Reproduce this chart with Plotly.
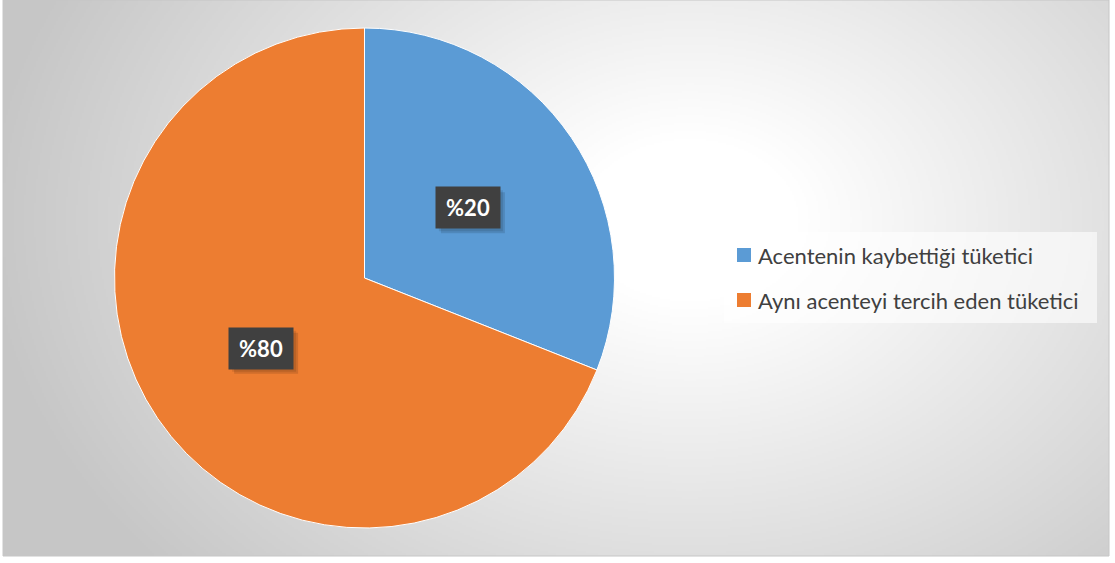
import base64
import struct
import zlib

import numpy as np
import plotly.graph_objects as go

# ---- data ----
labels = ["Acentenin kaybettiği tüketici", "Aynı acenteyi tercih eden tüketici"]
values = [31, 69]
text_labels = ["%20", "%80"]
colors = ["#5B9BD5", "#ED7D31"]

# ---- page geometry (pixels) ----
W, H = 1115, 563
CH_X0, CH_X1, CH_Y0, CH_Y1 = 3, 1109, 0, 556
PIE_CX, PIE_CY, PIE_R = 364.5, 278, 250


def gray_png_uri(arr):
    h, w = arr.shape
    raw = b"".join(b"\x00" + arr[r].tobytes() for r in range(h))

    def chunk(tag, data):
        c = struct.pack(">I", len(data)) + tag + data
        return c + struct.pack(">I", zlib.crc32(tag + data) & 0xFFFFFFFF)

    png = b"\x89PNG\r\n\x1a\n"
    png += chunk(b"IHDR", struct.pack(">IIBBBBB", w, h, 8, 0, 0, 0, 0))
    png += chunk(b"IDAT", zlib.compress(raw, 9))
    png += chunk(b"IEND", b"")
    return "data:image/png;base64," + base64.b64encode(png).decode()


# radial background gradient (decorative)
gw, gh = (CH_X1 - CH_X0) // 2, (CH_Y1 - CH_Y0) // 2
xs = np.linspace(CH_X0, CH_X1, gw)
ys = np.linspace(CH_Y0, CH_Y1, gh)
X, Y = np.meshgrid(xs, ys)
e = np.sqrt((X - 690) ** 2 + ((Y - 220) / 0.75) ** 2)
t = np.clip((e - 110) / 600, 0, 1)
g = (255 - 57 * t).astype(np.uint8)
bg_uri = gray_png_uri(g)

fig = go.Figure()
fig.add_trace(
    go.Pie(
        labels=labels,
        values=values,
        sort=False,
        direction="clockwise",
        rotation=0,
        marker=dict(colors=colors, line=dict(color="white", width=1)),
        textinfo="none",
        hoverinfo="label+percent",
        showlegend=False,
        domain=dict(
            x=[(PIE_CX - PIE_R) / W, (PIE_CX + PIE_R) / W],
            y=[1 - (PIE_CY + PIE_R) / H, 1 - (PIE_CY - PIE_R) / H],
        ),
    )
)

shapes = [
    dict(type="rect", xref="paper", yref="paper",
         x0=CH_X0 / W, x1=CH_X1 / W, y0=1 - CH_Y1 / H, y1=1 - CH_Y0 / H,
         line=dict(color="#c6c6c6", width=1), fillcolor="rgba(0,0,0,0)", layer="below"),
    # legend box
    dict(type="rect", xref="paper", yref="paper",
         x0=724 / W, x1=1097 / W, y0=1 - 323 / H, y1=1 - 232 / H,
         line=dict(width=0), fillcolor="rgba(255,255,255,0.6)", layer="below"),
]
annotations = []

# data labels at half radius on each slice's mid angle
BOX_W, BOX_H = 64, 41
total = sum(values)
cum = 0
for v, txt in zip(values, text_labels):
    mid = (cum + v / 2) / total
    cum += v
    th = 2 * np.pi * mid
    px = PIE_CX + 0.5 * PIE_R * np.sin(th)
    py = PIE_CY - 0.5 * PIE_R * np.cos(th)
    # soft shadow of the label box
    for k, a in ((3, 0.10), (5, 0.12)):
        shapes.append(dict(type="rect", xref="paper", yref="paper", layer="above",
                           x0=(px - BOX_W / 2 + k) / W, x1=(px + BOX_W / 2 + k) / W,
                           y0=1 - (py + BOX_H / 2 + k) / H, y1=1 - (py - BOX_H / 2 + k) / H,
                           line=dict(width=0), fillcolor=f"rgba(0,0,0,{a})"))
    annotations.append(dict(
        x=px / W, y=1 - py / H, xref="paper", yref="paper",
        xanchor="center", yanchor="middle",
        text="<b>" + txt + "</b>", showarrow=False,
        font=dict(size=22, color="white", family="Lato"),
        bgcolor="#404040", width=BOX_W - 14, height=BOX_H - 14, borderpad=7,
    ))

# legend entries
leg_y = [255, 300]
for lab, col, ly in zip(labels, colors, leg_y):
    shapes.append(dict(type="rect", xref="paper", yref="paper",
                       x0=737 / W, x1=751 / W, y0=1 - (ly + 7) / H, y1=1 - (ly - 7) / H,
                       line=dict(width=0), fillcolor=col))
    annotations.append(dict(
        x=756 / W, y=1 - ly / H, xref="paper", yref="paper", xanchor="left", yanchor="middle",
        text=lab, showarrow=False, font=dict(size=22, color="#404040", family="Lato"),
    ))

fig.update_layout(
    width=W, height=H,
    margin=dict(l=0, r=0, t=0, b=0),
    paper_bgcolor="white",
    plot_bgcolor="rgba(0,0,0,0)",
    images=[dict(source=bg_uri, xref="paper", yref="paper",
                 x=CH_X0 / W, y=1 - CH_Y0 / H, sizex=(CH_X1 - CH_X0) / W, sizey=(CH_Y1 - CH_Y0) / H,
                 xanchor="left", yanchor="top", sizing="stretch", layer="below")],
    shapes=shapes,
    annotations=annotations,
    showlegend=False,
)

fig.write_html("out.html")
